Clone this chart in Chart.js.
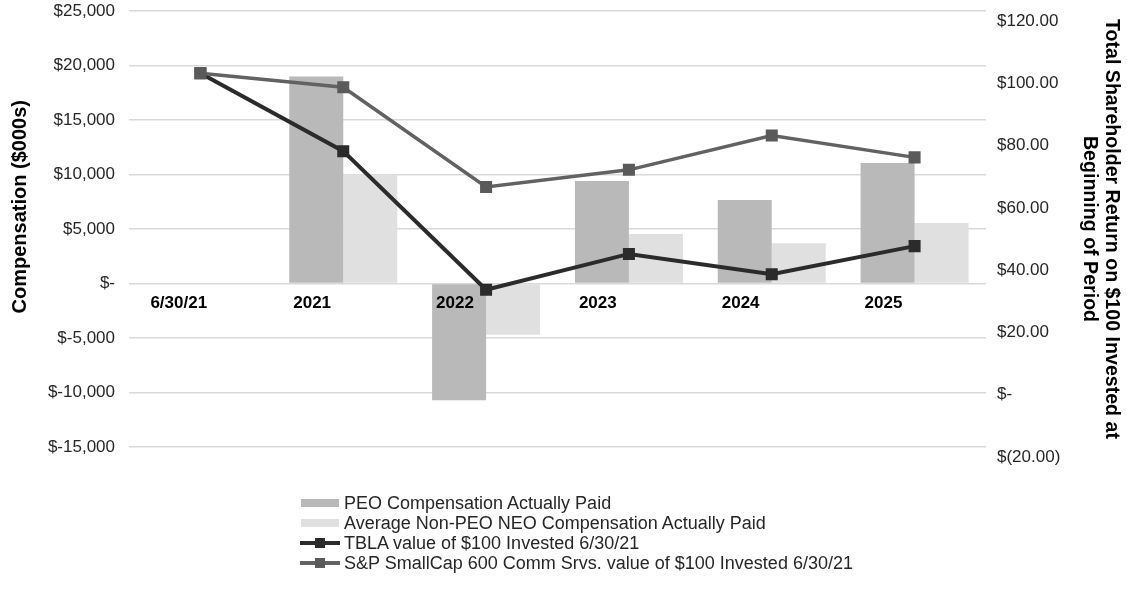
<!DOCTYPE html>
<html>
<head>
<meta charset="utf-8">
<title>Compensation Actually Paid vs. TSR</title>
<script src="https://cdn.jsdelivr.net/npm/chart.js@4.4.1/dist/chart.umd.min.js"></script>
<style>
    html, body { margin: 0; padding: 0; background: #fff; }
    #wrap { position: relative; width: 1127px; height: 609px; }
    #tsrChart { position: absolute; left: 0; top: 0; }
    #legend {
        position: absolute; left: 300px; top: 493px;
        font-family: "Liberation Sans", Arial, sans-serif; font-size: 18px; color: #262626;
    }
    .legend-item { display: flex; align-items: center; height: 20px; white-space: nowrap; }
    .swatch { position: relative; width: 40px; height: 20px; margin-right: 4px; flex: none; }
    .swatch .bar { position: absolute; left: 1px; top: 6px; width: 38px; height: 8px; }
    .swatch .line { position: absolute; left: 0; top: 8px; width: 40px; height: 4px; }
    .swatch .mark { position: absolute; left: 15px; top: 5px; width: 10px; height: 10px; }
</style>
</head>
<body>
<div id="wrap">
    <canvas id="tsrChart" width="1127" height="609"></canvas>
    <div id="legend"></div>
</div>
<script>
// Fiscal periods (first point is the $100 base date)
const periods = ['6/30/21', '2021', '2022', '2023', '2024', '2025'];

// Compensation actually paid, $000s
const peoCap = [null, 19000, -10700, 9400, 7650, 11050];
const neoAvgCap = [null, 10000, -4700, 4550, 3700, 5550];

// Value of $100 invested 6/30/21
const tblaValue = [100, 75, 30.5, 42, 35.5, 44.5];
const peerValue = [100, 95.5, 63.5, 69, 80, 73];

// Axis ranges
const compRange = { min: -15000, max: 25000, step: 5000 };
const tsrRange = { min: -20, max: 120, step: 20 };

const FONT = '"Liberation Sans", Arial, sans-serif';
Chart.defaults.font.family = FONT;
Chart.defaults.font.size = 17;
Chart.defaults.color = '#262626';

function fmtComp(v) {
    return v === 0 ? '$-' : '$' + v.toLocaleString('en-US');
}

function fmtTsr(v) {
    if (v === 0) return '$-';
    if (v < 0) return '$(' + Math.abs(v).toFixed(2) + ')';
    return '$' + v.toFixed(2);
}

// keep the plot edges fixed instead of growing room for the end labels
function fixedWidth(w) {
    return function(scale) {
        scale.width = w;
        scale.paddingTop = 0;
        scale.paddingBottom = 0;
    };
}

const ctx = document.getElementById('tsrChart').getContext('2d');
const chart = new Chart(ctx, {
    type: 'bar',
    data: {
        labels: periods,
        datasets: [
            {
                label: 'PEO Compensation Actually Paid',
                data: peoCap,
                backgroundColor: '#b9b9b9',
                yAxisID: 'comp',
                categoryPercentage: 0.756,
                barPercentage: 1,
                order: 3
            },
            {
                label: 'Average Non-PEO NEO Compensation Actually Paid',
                data: neoAvgCap,
                backgroundColor: '#e0e0e0',
                yAxisID: 'comp',
                categoryPercentage: 0.756,
                barPercentage: 1,
                order: 3
            },
            {
                type: 'line',
                label: 'TBLA value of $100 Invested 6/30/21',
                data: tblaValue,
                borderColor: '#2b2b2b',
                backgroundColor: '#2b2b2b',
                borderWidth: 4,
                pointStyle: 'rect',
                pointRadius: 8.5,
                pointBorderWidth: 0,
                tension: 0,
                yAxisID: 'tsr',
                order: 1
            },
            {
                type: 'line',
                label: 'S&P SmallCap 600 Comm Srvs. value of $100 Invested 6/30/21',
                data: peerValue,
                borderColor: '#626262',
                backgroundColor: '#5a5a5a',
                borderWidth: 3.5,
                pointStyle: 'rect',
                pointRadius: 8.5,
                pointBorderWidth: 0,
                tension: 0,
                yAxisID: 'tsr',
                order: 0
            }
        ]
    },
    options: {
        responsive: false,
        animation: false,
        layout: { padding: { top: 11, bottom: 162, left: 0, right: 0 } },
        plugins: {
            legend: { display: false },
            tooltip: { enabled: false }
        },
        scales: {
            x: {
                type: 'category',
                position: { comp: 0 },
                grid: { display: false, drawTicks: false },
                border: { display: false },
                ticks: {
                    z: 1, // period labels sit on top of the negative bars
                    align: 'start',
                    labelOffset: -50,
                    padding: 10,
                    color: '#000',
                    font: { size: 17, weight: 'bold' }
                },
                afterFit: function(scale) { scale.height = 0; }
            },
            comp: {
                type: 'linear',
                position: 'left',
                min: compRange.min,
                max: compRange.max,
                grid: { color: '#d9d9d9', lineWidth: 1.5, drawTicks: false },
                border: { display: false },
                ticks: { stepSize: compRange.step, padding: 14, callback: fmtComp },
                title: {
                    display: true,
                    // leading spaces lift the centred title a little above the plot middle
                    text: '        Compensation ($000s)',
                    color: '#000',
                    font: { size: 20, weight: 'bold', lineHeight: 1.2 },
                    padding: { top: 8, bottom: 0 }
                },
                afterFit: fixedWidth(129)
            },
            tsr: {
                type: 'linear',
                position: 'right',
                min: tsrRange.min,
                max: tsrRange.max,
                grid: { display: false, drawTicks: false },
                border: { display: false },
                ticks: { stepSize: tsrRange.step, padding: 11, labelOffset: 10, callback: fmtTsr },
                title: {
                    display: true,
                    text: ['Total Shareholder Return on $100 Invested at', 'Beginning of Period'],
                    color: '#000',
                    font: { size: 19.6, weight: 'bold', lineHeight: 1.12 },
                    padding: { top: 5, bottom: 0 }
                },
                afterFit: fixedWidth(141)
            }
        }
    }
});

// Stacked legend below the plot, one entry per row
function buildLegend(chart) {
    const box = document.getElementById('legend');
    chart.data.datasets.forEach(function(ds) {
        const item = document.createElement('div');
        item.className = 'legend-item';
        const sw = document.createElement('span');
        sw.className = 'swatch';
        if (ds.type === 'line') {
            const line = document.createElement('span');
            line.className = 'line';
            line.style.background = ds.borderColor;
            const mark = document.createElement('span');
            mark.className = 'mark';
            mark.style.background = ds.backgroundColor;
            sw.appendChild(line);
            sw.appendChild(mark);
        } else {
            const bar = document.createElement('span');
            bar.className = 'bar';
            bar.style.background = ds.backgroundColor;
            sw.appendChild(bar);
        }
        const txt = document.createElement('span');
        txt.textContent = ds.label;
        item.appendChild(sw);
        item.appendChild(txt);
        box.appendChild(item);
    });
}
buildLegend(chart);
</script>
</body>
</html>
